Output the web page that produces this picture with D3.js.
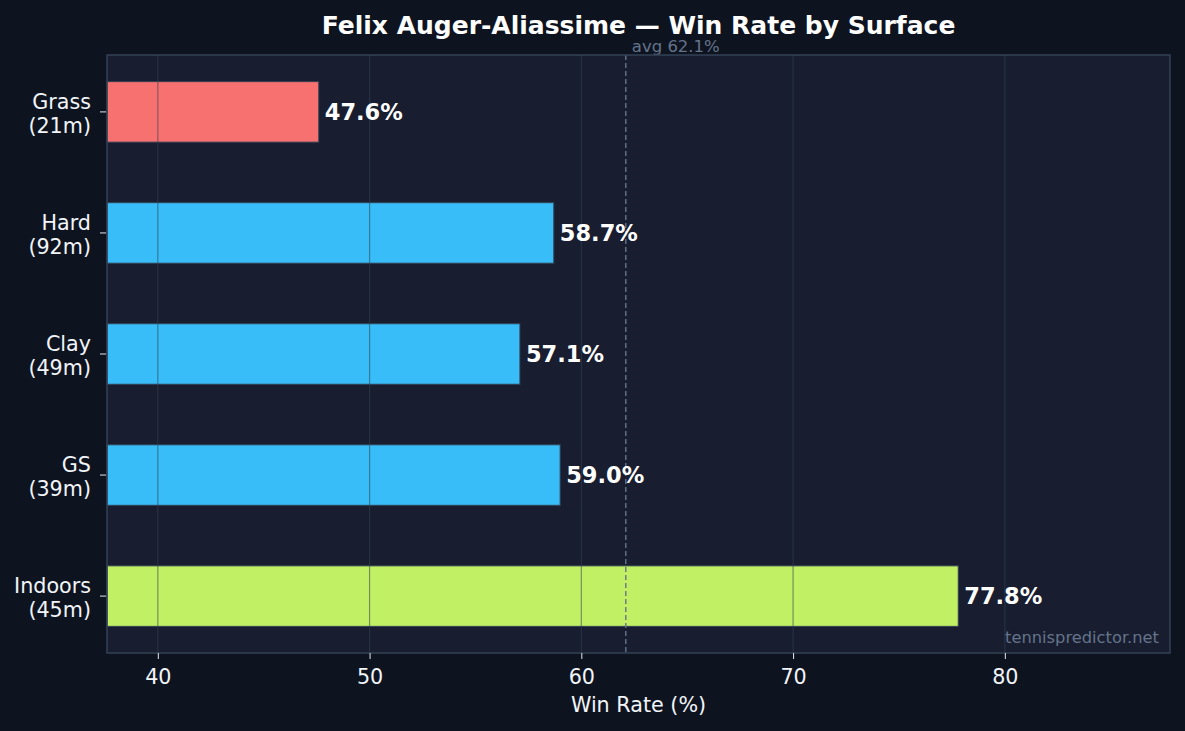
<!DOCTYPE html>
<html>
<head>
<meta charset="utf-8">
<script src="https://cdn.jsdelivr.net/npm/d3@7"></script>
<style>
  html, body { margin: 0; padding: 0; background: #0e1320; }
  svg { display: block; }
  text { font-family: "DejaVu Sans", sans-serif; }
</style>
</head>
<body>
<script>
var surfaces = ["Grass", "Hard", "Clay", "GS", "Indoors"];
var matches = ["21m", "92m", "49m", "39m", "45m"];
var winRates = [47.6, 58.7, 57.1, 59.0, 77.8];
var barColors = ["#f87171", "#38bdf8", "#38bdf8", "#38bdf8", "#c2f065"];
var xTicks = [40, 50, 60, 70, 80];
var avgRate = 62.1;

var W = 1185, H = 731;
var plotLeft = 107, plotRight = 1170, plotTop = 55, plotBottom = 653;

var svg = d3.select('body').append('svg')
    .attr('width', W)
    .attr('height', H);

svg.append('rect').attr('width', W).attr('height', H).attr('fill', '#0e1320');

// x limits: min - 10 to max + 10
var x = d3.scaleLinear()
    .domain([d3.min(winRates) - 10, d3.max(winRates) + 10])
    .range([plotLeft, plotRight]);

var y = d3.scaleLinear()
    .domain([-0.47, surfaces.length - 1 + 0.47])
    .range([plotTop, plotBottom]);

// plot face
svg.append('rect')
    .attr('x', plotLeft).attr('y', plotTop)
    .attr('width', plotRight - plotLeft).attr('height', plotBottom - plotTop)
    .attr('fill', '#181d2f');

// bars
svg.selectAll('rect.bar')
    .data(winRates)
    .enter()
    .append('rect')
    .attr('class', 'bar')
    .attr('x', x.range()[0])
    .attr('y', function (d, i) { return y(i - 0.25); })
    .attr('width', function (d) { return x(d) - x.range()[0]; })
    .attr('height', y(0.5) - y(0))
    .attr('fill', function (d, i) { return barColors[i]; })
    .attr('stroke', '#334155')
    .attr('stroke-width', 1);

// grid on top of bars
svg.selectAll('line.grid')
    .data(xTicks)
    .enter()
    .append('line')
    .attr('class', 'grid')
    .attr('x1', function (d) { return x(d); })
    .attr('x2', function (d) { return x(d); })
    .attr('y1', plotTop).attr('y2', plotBottom)
    .attr('stroke', '#334155')
    .attr('stroke-opacity', 0.55)
    .attr('stroke-width', 1.2);

// average line
svg.append('line')
    .attr('x1', x(avgRate)).attr('x2', x(avgRate))
    .attr('y1', plotTop).attr('y2', plotBottom)
    .attr('stroke', '#64748b')
    .attr('stroke-width', 1.4)
    .attr('stroke-dasharray', '5,3');

svg.append('text')
    .attr('x', x(avgRate) + 6)
    .attr('y', plotTop - 3)
    .attr('fill', '#64748b')
    .attr('font-size', 16.5)
    .text('avg ' + avgRate.toFixed(1) + '%');

// value labels
svg.selectAll('text.val')
    .data(winRates)
    .enter()
    .append('text')
    .attr('class', 'val')
    .attr('x', function (d) { return x(d) + 6; })
    .attr('y', function (d, i) { return y(i); })
    .attr('dy', '0.36em')
    .attr('fill', '#ffffff')
    .attr('font-size', 22.5)
    .attr('font-weight', 'bold')
    .text(function (d) { return d.toFixed(1) + '%'; });

// frame
svg.append('rect')
    .attr('x', plotLeft).attr('y', plotTop)
    .attr('width', plotRight - plotLeft).attr('height', plotBottom - plotTop)
    .attr('fill', 'none')
    .attr('stroke', '#334155')
    .attr('stroke-width', 1.5);

// x axis
var xAxis = svg.append('g')
    .attr('transform', 'translate(0,' + plotBottom + ')')
    .call(d3.axisBottom(x).tickValues(xTicks).tickSize(6).tickPadding(10).tickFormat(d3.format('d')));
xAxis.select('.domain').remove();
xAxis.selectAll('line').attr('stroke', '#e2e8f0');
xAxis.selectAll('text').attr('fill', '#f1f5f9').attr('font-size', 20.7)
    .attr('font-family', '"DejaVu Sans", sans-serif');

// y ticks and labels
var yg = svg.selectAll('g.ytick')
    .data(surfaces)
    .enter()
    .append('g')
    .attr('class', 'ytick')
    .attr('transform', function (d, i) { return 'translate(' + plotLeft + ',' + y(i) + ')'; });

yg.append('line')
    .attr('x1', -7).attr('x2', -1)
    .attr('stroke', '#e2e8f0');

yg.append('text')
    .attr('x', -16)
    .attr('y', -3)
    .attr('text-anchor', 'end')
    .attr('fill', '#f1f5f9')
    .attr('font-size', 20.7)
    .text(function (d) { return d; });

yg.append('text')
    .attr('x', -16)
    .attr('y', 21)
    .attr('text-anchor', 'end')
    .attr('fill', '#f1f5f9')
    .attr('font-size', 20.7)
    .text(function (d, i) { return '(' + matches[i] + ')'; });

// title
svg.append('text')
    .attr('x', (plotLeft + plotRight) / 2)
    .attr('y', 34)
    .attr('text-anchor', 'middle')
    .attr('fill', '#ffffff')
    .attr('font-size', 25)
    .attr('font-weight', 'bold')
    .text('Felix Auger-Aliassime \u2014 Win Rate by Surface');

// x label
svg.append('text')
    .attr('x', (plotLeft + plotRight) / 2)
    .attr('y', 712)
    .attr('text-anchor', 'middle')
    .attr('fill', '#f1f5f9')
    .attr('font-size', 20.7)
    .text('Win Rate (%)');

// watermark
svg.append('text')
    .attr('x', plotRight - 11)
    .attr('y', 643)
    .attr('text-anchor', 'end')
    .attr('fill', '#64748b')
    .attr('font-size', 16.3)
    .text('tennispredictor.net');
</script>
</body>
</html>
